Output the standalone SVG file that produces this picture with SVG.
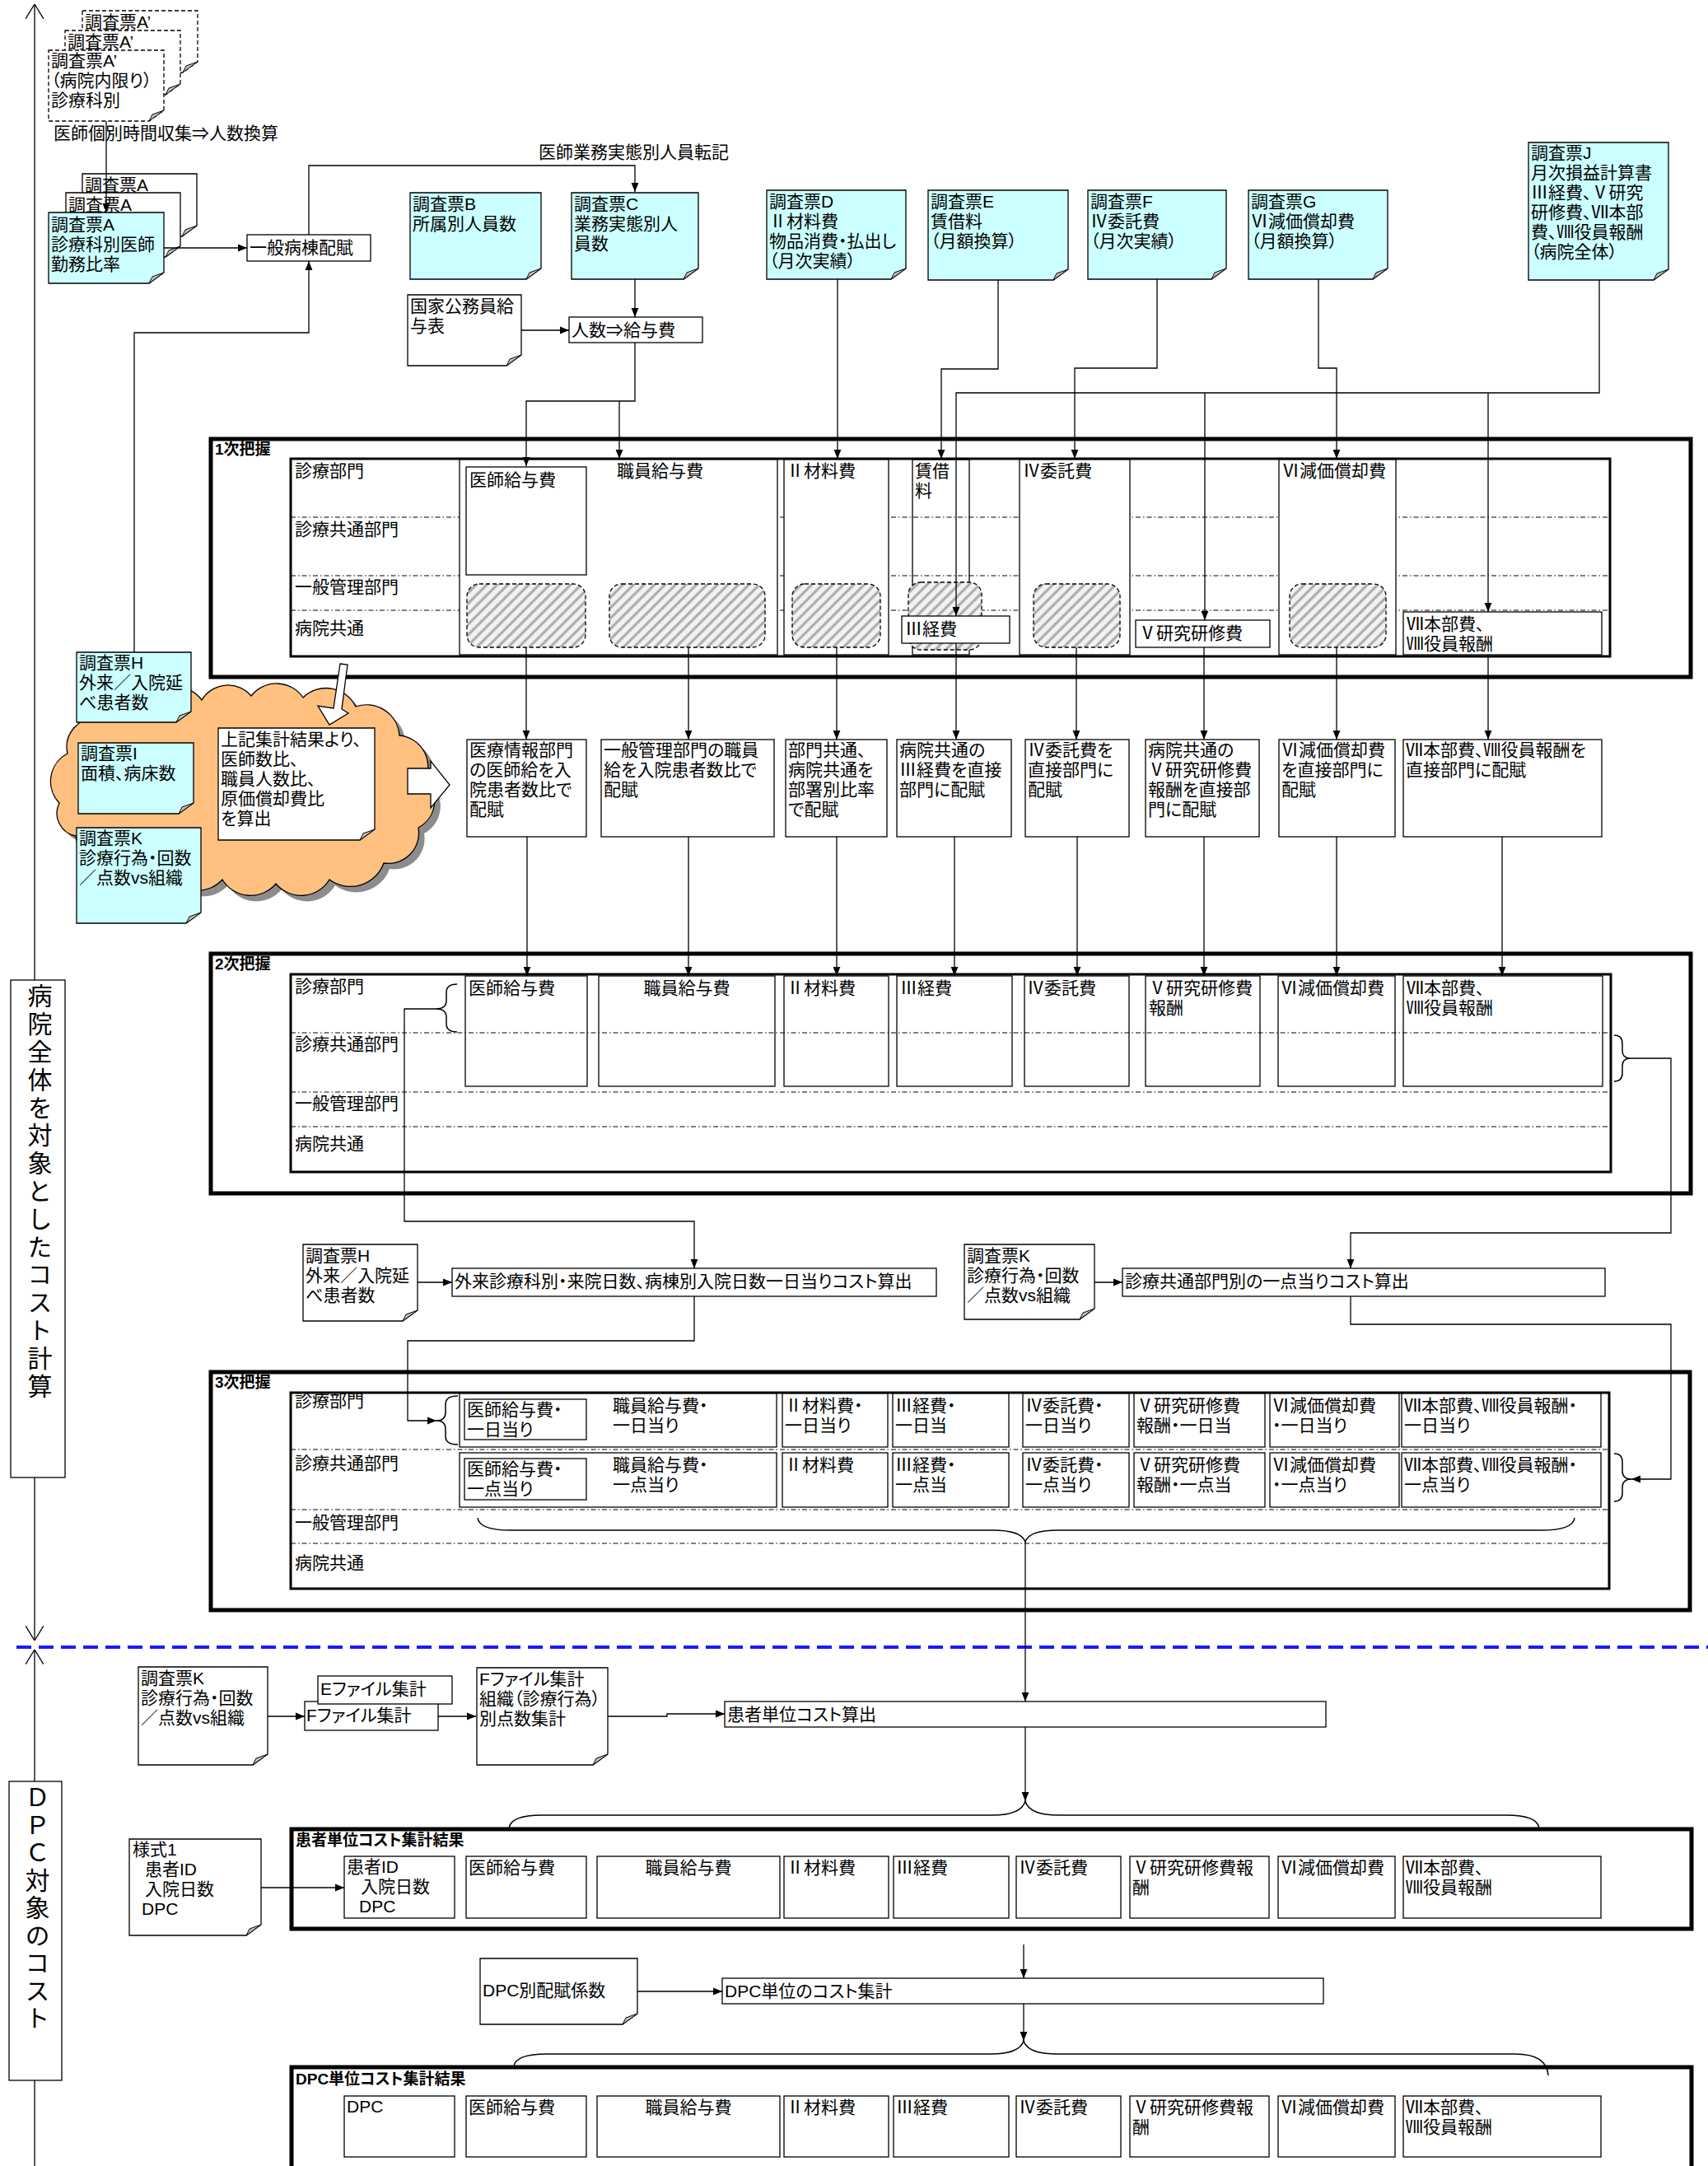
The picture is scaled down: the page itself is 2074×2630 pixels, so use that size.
<svg xmlns="http://www.w3.org/2000/svg" width="2074" height="2630" viewBox="0 0 2074 2630">
<style>
.t{font-family:"Liberation Sans","Noto Sans CJK JP","Noto Sans CJK SC",sans-serif;font-size:21px;fill:#000;font-feature-settings:"palt"}
.b{font-weight:bold;font-size:19px}
.vt{font-size:30px;writing-mode:vertical-rl;font-feature-settings:normal}
.c{text-anchor:middle}
.bx{fill:#fff;stroke:#000;stroke-width:1.3}
.nf{fill:none;stroke:#000;stroke-width:1.3}
.cy{fill:#ccffff;stroke:#000;stroke-width:1.3}
.dsh{fill:#fff;stroke:#000;stroke-width:1.3;stroke-dasharray:5 3}
.fold{fill:#c0c0c0;stroke:#000;stroke-width:1}
.fr{fill:none;stroke:#000;stroke-width:5}
.in{fill:none;stroke:#000;stroke-width:3}
.dd{fill:none;stroke:#000;stroke-width:1;stroke-dasharray:6 3 1.5 3}
.ln{fill:none;stroke:#000;stroke-width:1.3}
.ar{marker-end:url(#ah)}
.hat{fill:url(#hatch);stroke:#000;stroke-width:1.3;stroke-dasharray:5 3}
.br{fill:none;stroke:#000;stroke-width:1.5}
</style>
<defs>
<marker id="ah" viewBox="0 0 10 10" refX="10" refY="5" markerWidth="11" markerHeight="11" markerUnits="userSpaceOnUse" orient="auto"><path d="M0,1 L10,5 L0,9 z" fill="#000"/></marker>
<marker id="oa" viewBox="0 0 18 22" refX="18" refY="11" markerWidth="18" markerHeight="22" markerUnits="userSpaceOnUse" orient="auto-start-reverse"><path d="M0,0 L18,11 L0,22" fill="none" stroke="#000" stroke-width="1.3"/></marker>
<pattern id="hatch" width="9" height="9" patternUnits="userSpaceOnUse" patternTransform="rotate(45)"><rect width="9" height="9" fill="#f2f2f2"/><line x1="2" y1="0" x2="2" y2="9" stroke="#a8a8a8" stroke-width="3"/></pattern>
</defs>
<rect width="2074" height="2630" fill="#fff"/>

<g id="axis">
<path class="ln" d="M42 1992V5" marker-start="url(#oa)" marker-end="url(#oa)"/>
<path class="ln" d="M42 2630V2003" marker-end="url(#oa)"/>
<path d="M20 2000H2074" fill="none" stroke="#1a1aff" stroke-width="4" stroke-dasharray="18 9"/>
</g>

<g id="frame1">
<rect class="fr" x="256" y="533" width="1797" height="289"/>
<text class="t b" x="261" y="552">1次把握</text>
<line class="dd" x1="353" y1="628" x2="1955" y2="628"/>
<line class="dd" x1="353" y1="699" x2="1955" y2="699"/>
<line class="dd" x1="353" y1="741" x2="1955" y2="741"/>
<rect class="in" x="353" y="557" width="1602" height="240"/>
<text class="t" x="358" y="579">診療部門</text>
<text class="t" x="358" y="650">診療共通部門</text>
<text class="t" x="358" y="720">一般管理部門</text>
<text class="t" x="358" y="770">病院共通</text>
</g>
<g id="p1-salary">
<rect class="bx" x="558" y="558" width="386" height="237"/>
<rect class="bx" x="566" y="567" width="146" height="131"/>
<text class="t" x="570" y="590">医師給与費</text>
<text class="t" x="749" y="579">職員給与費</text>
<rect class="hat" x="567" y="709" width="144" height="77" rx="15"/>
<rect class="hat" x="740" y="709" width="189" height="77" rx="15"/>
</g>
<g id="p1-material">
<rect class="bx" x="952" y="558" width="127" height="237"/>
<text class="t" x="955" y="579">Ⅱ材料費</text>
<rect class="hat" x="962" y="709" width="107" height="77" rx="15"/>
</g>
<g id="p1-rent">
<rect class="nf" x="1108" y="558" width="69" height="237"/>
<text class="t" x="1111" y="579">賃借<tspan x="1111" dy="24">料</tspan></text>
<rect class="hat" x="1103" y="707" width="89" height="82" rx="15"/>
<rect class="bx" x="1095" y="748" width="131" height="33"/>
<text class="t" x="1099" y="771">Ⅲ経費</text>
</g>
<g id="p1-consign">
<rect class="bx" x="1238" y="558" width="134" height="237"/>
<text class="t" x="1242" y="579">Ⅳ委託費</text>
<rect class="hat" x="1255" y="709" width="105" height="77" rx="15"/>
</g>
<g id="p1-research">
<rect class="bx" x="1379" y="753" width="163" height="33"/>
<text class="t" x="1383" y="776">Ⅴ研究研修費</text>
</g>
<g id="p1-depr">
<rect class="bx" x="1553" y="558" width="142" height="237"/>
<text class="t" x="1557" y="579">Ⅵ減価償却費</text>
<rect class="hat" x="1566" y="709" width="117" height="77" rx="15"/>
</g>
<g id="p1-hq">
<rect class="bx" x="1704" y="743" width="241" height="52"/>
<text class="t" x="1708" y="765">Ⅶ本部費、<tspan x="1708" dy="24">Ⅷ役員報酬</tspan></text>
</g>

<g id="frame2">
<rect class="fr" x="256" y="1158" width="1797" height="291"/>
<text class="t b" x="261" y="1177">2次把握</text>
<rect class="in" x="353" y="1183" width="1603" height="240"/>
<text class="t" x="358" y="1205">診療部門</text>
<text class="t" x="358" y="1275">診療共通部門</text>
<text class="t" x="358" y="1347">一般管理部門</text>
<text class="t" x="358" y="1396">病院共通</text>
</g>
<g id="p2-cols">
<rect class="bx" x="565" y="1185" width="148" height="134"/>
<text class="t" x="569" y="1207">医師給与費</text>
<rect class="bx" x="727" y="1185" width="214" height="134"/>
<text class="t c" x="834" y="1207">職員給与費</text>
<rect class="bx" x="952" y="1185" width="127" height="134"/>
<text class="t" x="955" y="1207">Ⅱ材料費</text>
<rect class="bx" x="1089" y="1185" width="140" height="134"/>
<text class="t" x="1093" y="1207">Ⅲ経費</text>
<rect class="bx" x="1244" y="1185" width="127" height="134"/>
<text class="t" x="1247" y="1207">Ⅳ委託費</text>
<rect class="bx" x="1391" y="1185" width="139" height="134"/>
<text class="t" x="1395" y="1207">Ⅴ研究研修費<tspan x="1395" dy="24">報酬</tspan></text>
<rect class="bx" x="1552" y="1185" width="142" height="134"/>
<text class="t" x="1555" y="1207">Ⅵ減価償却費</text>
<rect class="bx" x="1704" y="1185" width="242" height="134"/>
<text class="t" x="1708" y="1207">Ⅶ本部費、<tspan x="1708" dy="24">Ⅷ役員報酬</tspan></text>
<line class="dd" x1="353" y1="1254" x2="1955" y2="1254"/>
<line class="dd" x1="353" y1="1326" x2="1955" y2="1326"/>
<line class="dd" x1="353" y1="1368" x2="1955" y2="1368"/>
</g>

<g id="frame3">
<rect class="fr" x="256" y="1666" width="1796" height="289"/>
<text class="t b" x="261" y="1685">3次把握</text>
<line class="dd" x1="353" y1="1760" x2="1954" y2="1760"/>
<line class="dd" x1="353" y1="1833" x2="1954" y2="1833"/>
<line class="dd" x1="353" y1="1874" x2="1954" y2="1874"/>
<rect class="in" x="353" y="1691" width="1601" height="238"/>
<text class="t" x="358" y="1708">診療部門</text>
<text class="t" x="358" y="1784">診療共通部門</text>
<text class="t" x="358" y="1856">一般管理部門</text>
<text class="t" x="358" y="1905">病院共通</text>
</g>
<g id="p3-row1">
<rect class="bx" x="558" y="1692" width="385" height="65"/>
<rect class="bx" x="564" y="1699" width="148" height="49"/>
<text class="t" x="567" y="1719">医師給与費・<tspan x="567" dy="24">一日当り</tspan></text>
<text class="t" x="744" y="1714">職員給与費・<tspan x="744" dy="24">一日当り</tspan></text>
<rect class="bx" x="950" y="1692" width="128" height="65"/>
<text class="t" x="953" y="1714">Ⅱ材料費・<tspan x="953" dy="24">一日当り</tspan></text>
<rect class="bx" x="1084" y="1692" width="141" height="65"/>
<text class="t" x="1087" y="1714">Ⅲ経費・<tspan x="1087" dy="24">一日当</tspan></text>
<rect class="bx" x="1242" y="1692" width="129" height="65"/>
<text class="t" x="1245" y="1714">Ⅳ委託費・<tspan x="1245" dy="24">一日当り</tspan></text>
<rect class="bx" x="1377" y="1692" width="159" height="65"/>
<text class="t" x="1380" y="1714">Ⅴ研究研修費<tspan x="1380" dy="24">報酬・一日当</tspan></text>
<rect class="bx" x="1542" y="1692" width="157" height="65"/>
<text class="t" x="1545" y="1714">Ⅵ減価償却費<tspan x="1545" dy="24">・一日当り</tspan></text>
<rect class="bx" x="1702" y="1692" width="242" height="65"/>
<text class="t" x="1705" y="1714">Ⅶ本部費、Ⅷ役員報酬・<tspan x="1705" dy="24">一日当り</tspan></text>
</g>
<g id="p3-row2">
<rect class="bx" x="558" y="1764" width="385" height="66"/>
<rect class="bx" x="564" y="1771" width="148" height="50"/>
<text class="t" x="567" y="1791">医師給与費・<tspan x="567" dy="24">一点当り</tspan></text>
<text class="t" x="744" y="1786">職員給与費・<tspan x="744" dy="24">一点当り</tspan></text>
<rect class="bx" x="950" y="1764" width="128" height="66"/>
<text class="t" x="953" y="1786">Ⅱ材料費</text>
<rect class="bx" x="1084" y="1764" width="141" height="66"/>
<text class="t" x="1087" y="1786">Ⅲ経費・<tspan x="1087" dy="24">一点当</tspan></text>
<rect class="bx" x="1242" y="1764" width="129" height="66"/>
<text class="t" x="1245" y="1786">Ⅳ委託費・<tspan x="1245" dy="24">一点当り</tspan></text>
<rect class="bx" x="1377" y="1764" width="159" height="66"/>
<text class="t" x="1380" y="1786">Ⅴ研究研修費<tspan x="1380" dy="24">報酬・一点当</tspan></text>
<rect class="bx" x="1542" y="1764" width="157" height="66"/>
<text class="t" x="1545" y="1786">Ⅵ減価償却費<tspan x="1545" dy="24">・一点当り</tspan></text>
<rect class="bx" x="1702" y="1764" width="242" height="66"/>
<text class="t" x="1705" y="1786">Ⅶ本部費、Ⅷ役員報酬・<tspan x="1705" dy="24">一点当り</tspan></text>
</g>

<g id="srcAprime">
<path class="dsh" d="M100 13H240V75L222 88H100Z"/><path class="fold" d="M222 88l4-8l14-5z"/>
<text class="t" x="103" y="34">調査票A’</text>
<path class="dsh" d="M79 37H219V102L201 115H79Z"/><path class="fold" d="M201 115l4-8l14-5z"/>
<text class="t" x="82" y="58">調査票A’</text>
<path class="dsh" d="M59 61H199V134L181 147H59Z"/><path class="fold" d="M181 147l4-8l14-5z"/>
<text class="t" x="62" y="81">調査票A’<tspan x="62" dy="24">（病院内限り）</tspan><tspan x="62" dy="24">診療科別</tspan></text>
</g>
<g id="lblA"><text class="t" x="65" y="169">医師個別時間収集⇒人数換算</text></g>
<g id="srcA">
<path class="bx" d="M100 211H239V274L221 287H100Z"/><path class="fold" d="M221 287l4-8l14-5z"/>
<text class="t" x="103" y="232">調査票A</text>
<path class="bx" d="M80 234H219V299L201 312H80Z"/><path class="fold" d="M201 312l4-8l14-5z"/>
<text class="t" x="83" y="256">調査票A</text>
<path class="cy" d="M59 258H199V331L181 344H59Z"/><path class="fold" d="M181 344l4-8l14-5z"/>
<text class="t" x="62" y="280">調査票A<tspan x="62" dy="24">診療科別医師</tspan><tspan x="62" dy="24">勤務比率</tspan></text>
</g>
<g id="ippanByoto">
<rect class="bx" x="300" y="285" width="150" height="32"/>
<text class="t" x="303" y="308">一般病棟配賦</text>
</g>
<g id="lblC"><text class="t" x="654" y="192">医師業務実態別人員転記</text></g>
<g id="srcB">
<path class="cy" d="M498 234H657V326L639 339H498Z"/><path class="fold" d="M639 339l4-8l14-5z"/>
<text class="t" x="501" y="255">調査票B<tspan x="501" dy="24">所属別人員数</tspan></text>
</g>
<g id="srcC">
<path class="cy" d="M694 234H848V326L830 339H694Z"/><path class="fold" d="M830 339l4-8l14-5z"/>
<text class="t" x="697" y="255">調査票C<tspan x="697" dy="24">業務実態別人</tspan><tspan x="697" dy="24">員数</tspan></text>
</g>
<g id="kokka">
<path class="bx" d="M495 358H633V431L615 444H495Z"/><path class="fold" d="M615 444l4-8l14-5z"/>
<text class="t" x="498" y="379">国家公務員給<tspan x="498" dy="24">与表</tspan></text>
</g>
<g id="ninzu">
<rect class="bx" x="691" y="385" width="162" height="31"/>
<text class="t" x="694" y="408">人数⇒給与費</text>
</g>
<g id="srcD">
<path class="cy" d="M931 231H1100V326L1082 339H931Z"/><path class="fold" d="M1082 339l4-8l14-5z"/>
<text class="t" x="934" y="252">調査票D<tspan x="934" dy="24">Ⅱ材料費</tspan><tspan x="934" dy="24">物品消費・払出し</tspan><tspan x="934" dy="24">（月次実績）</tspan></text>
</g>
<g id="srcE">
<path class="cy" d="M1127 231H1297V327L1279 340H1127Z"/><path class="fold" d="M1279 340l4-8l14-5z"/>
<text class="t" x="1130" y="252">調査票E<tspan x="1130" dy="24">賃借料</tspan><tspan x="1130" dy="24">（月額換算）</tspan></text>
</g>
<g id="srcF">
<path class="cy" d="M1321 231H1489V326L1471 339H1321Z"/><path class="fold" d="M1471 339l4-8l14-5z"/>
<text class="t" x="1324" y="252">調査票F<tspan x="1324" dy="24">Ⅳ委託費</tspan><tspan x="1324" dy="24">（月次実績）</tspan></text>
</g>
<g id="srcG">
<path class="cy" d="M1516 231H1685V326L1667 339H1516Z"/><path class="fold" d="M1667 339l4-8l14-5z"/>
<text class="t" x="1519" y="252">調査票G<tspan x="1519" dy="24">Ⅵ減価償却費</tspan><tspan x="1519" dy="24">（月額換算）</tspan></text>
</g>
<g id="srcJ">
<path class="cy" d="M1856 173H2026V327L2008 340H1856Z"/><path class="fold" d="M2008 340l4-8l14-5z"/>
<text class="t" x="1859" y="193">調査票J<tspan x="1859" dy="24">月次損益計算書</tspan><tspan x="1859" dy="24">Ⅲ経費、Ⅴ研究</tspan><tspan x="1859" dy="24">研修費、Ⅶ本部</tspan><tspan x="1859" dy="24">費、Ⅷ役員報酬</tspan><tspan x="1859" dy="24">（病院全体）</tspan></text>
</g>

<g id="cloud">
<path transform="translate(7,7)" fill="#8c8c8c" d="M72 975A38 38 0 0 1 82 915A35 35 0 0 1 118 872A39 39 0 0 1 178 852A41 41 0 0 1 245 850A37 37 0 0 1 305 845A39 39 0 0 1 368 847A40 40 0 0 1 432 858A40 40 0 0 1 485 893A38 38 0 0 1 517 945A38 38 0 0 1 508 1005A37 37 0 0 1 466 1048A43 43 0 0 1 400 1068A40 40 0 0 1 335 1073A40 40 0 0 1 270 1068A40 40 0 0 1 205 1060A42 42 0 0 1 140 1042A34 34 0 0 1 92 1015A28 28 0 0 1 72 975Z"/>
<path fill="#ffc080" stroke="#000" stroke-width="1.3" d="M72 975A38 38 0 0 1 82 915A35 35 0 0 1 118 872A39 39 0 0 1 178 852A41 41 0 0 1 245 850A37 37 0 0 1 305 845A39 39 0 0 1 368 847A40 40 0 0 1 432 858A40 40 0 0 1 485 893A38 38 0 0 1 517 945A38 38 0 0 1 508 1005A37 37 0 0 1 466 1048A43 43 0 0 1 400 1068A40 40 0 0 1 335 1073A40 40 0 0 1 270 1068A40 40 0 0 1 205 1060A42 42 0 0 1 140 1042A34 34 0 0 1 92 1015A28 28 0 0 1 72 975Z"/>
<polygon points="495,933 523,933 523,924 546,953 523,981 523,964 495,964" fill="#fff" stroke="#000" stroke-width="1.3"/>
</g>
<g id="srcH">
<path class="cy" d="M93 792H232V864L214 877H93Z"/><path class="fold" d="M214 877l4-8l14-5z"/>
<text class="t" x="96" y="812">調査票H<tspan x="96" dy="24">外来／入院延</tspan><tspan x="96" dy="24">べ患者数</tspan></text>
</g>
<g id="srcI">
<path class="cy" d="M95 902H235V975L217 988H95Z"/><path class="fold" d="M217 988l4-8l14-5z"/>
<text class="t" x="98" y="922">調査票I<tspan x="98" dy="24">面積、病床数</tspan></text>
</g>
<g id="srcK">
<path class="cy" d="M93 1005H244V1108L226 1121H93Z"/><path class="fold" d="M226 1121l4-8l14-5z"/>
<text class="t" x="96" y="1025">調査票K<tspan x="96" dy="24">診療行為・回数</tspan><tspan x="96" dy="24">／点数vs組織</tspan></text>
</g>
<g id="note">
<path class="bx" d="M265 884H455V1007L437 1020H265Z"/><path class="fold" d="M437 1020l4-8l14-5z"/>
<text class="t" x="268" y="905">上記集計結果より、<tspan x="268" dy="24">医師数比、</tspan><tspan x="268" dy="24">職員人数比、</tspan><tspan x="268" dy="24">原価償却費比</tspan><tspan x="268" dy="24">を算出</tspan></text>
</g>
<g id="callout">
<polygon points="413,806 422,807 415,861 423,866 400,880 386,857 405,860" fill="#fff" stroke="#000" stroke-width="1.3"/>
</g>

<g id="alloc1"><rect class="bx" x="567" y="898" width="145" height="118"/>
<text class="t" x="570" y="918">医療情報部門<tspan x="570" dy="24">の医師給を入</tspan><tspan x="570" dy="24">院患者数比で</tspan><tspan x="570" dy="24">配賦</tspan></text></g>
<g id="alloc2"><rect class="bx" x="730" y="898" width="210" height="118"/>
<text class="t" x="733" y="918">一般管理部門の職員<tspan x="733" dy="24">給を入院患者数比で</tspan><tspan x="733" dy="24">配賦</tspan></text></g>
<g id="alloc3"><rect class="bx" x="954" y="898" width="123" height="118"/>
<text class="t" x="957" y="918">部門共通、<tspan x="957" dy="24">病院共通を</tspan><tspan x="957" dy="24">部署別比率</tspan><tspan x="957" dy="24">で配賦</tspan></text></g>
<g id="alloc4"><rect class="bx" x="1089" y="898" width="139" height="118"/>
<text class="t" x="1092" y="918">病院共通の<tspan x="1092" dy="24">Ⅲ経費を直接</tspan><tspan x="1092" dy="24">部門に配賦</tspan></text></g>
<g id="alloc5"><rect class="bx" x="1245" y="898" width="126" height="118"/>
<text class="t" x="1248" y="918">Ⅳ委託費を<tspan x="1248" dy="24">直接部門に</tspan><tspan x="1248" dy="24">配賦</tspan></text></g>
<g id="alloc6"><rect class="bx" x="1391" y="898" width="138" height="118"/>
<text class="t" x="1394" y="918">病院共通の<tspan x="1394" dy="24">Ⅴ研究研修費</tspan><tspan x="1394" dy="24">報酬を直接部</tspan><tspan x="1394" dy="24">門に配賦</tspan></text></g>
<g id="alloc7"><rect class="bx" x="1553" y="898" width="141" height="118"/>
<text class="t" x="1556" y="918">Ⅵ減価償却費<tspan x="1556" dy="24">を直接部門に</tspan><tspan x="1556" dy="24">配賦</tspan></text></g>
<g id="alloc8"><rect class="bx" x="1704" y="898" width="241" height="118"/>
<text class="t" x="1707" y="918">Ⅶ本部費、Ⅷ役員報酬を<tspan x="1707" dy="24">直接部門に配賦</tspan></text></g>

<g id="srcH2">
<path class="bx" d="M368 1511H507V1591L489 1604H368Z"/><path class="fold" d="M489 1604l4-8l14-5z"/>
<text class="t" x="371" y="1532">調査票H<tspan x="371" dy="24">外来／入院延</tspan><tspan x="371" dy="24">べ患者数</tspan></text>
</g>
<g id="gairai">
<rect class="bx" x="549" y="1540" width="588" height="34"/>
<text class="t" x="552" y="1563">外来診療科別・来院日数、病棟別入院日数一日当りコスト算出</text>
</g>
<g id="srcK2">
<path class="bx" d="M1171 1511H1329V1589L1311 1602H1171Z"/><path class="fold" d="M1311 1602l4-8l14-5z"/>
<text class="t" x="1174" y="1532">調査票K<tspan x="1174" dy="24">診療行為・回数</tspan><tspan x="1174" dy="24">／点数vs組織</tspan></text>
</g>
<g id="shinryoKyotsu">
<rect class="bx" x="1363" y="1540" width="586" height="34"/>
<text class="t" x="1366" y="1563">診療共通部門別の一点当りコスト算出</text>
</g>

<g id="srcK3">
<path class="bx" d="M168 2024H325V2130L307 2143H168Z"/><path class="fold" d="M307 2143l4-8l14-5z"/>
<text class="t" x="171" y="2045">調査票K<tspan x="171" dy="24">診療行為・回数</tspan><tspan x="171" dy="24">／点数vs組織</tspan></text>
</g>
<g id="ffile">
<rect class="bx" x="370" y="2066" width="162" height="35"/>
<text class="t" x="372" y="2090">Fファイル集計</text>
</g>
<g id="efile">
<rect class="bx" x="386" y="2035" width="163" height="34"/>
<text class="t" x="389" y="2058">Eファイル集計</text>
</g>
<g id="fsum">
<path class="bx" d="M579 2025H738V2130L720 2143H579Z"/><path class="fold" d="M720 2143l4-8l14-5z"/>
<text class="t" x="582" y="2046">Fファイル集計<tspan x="582" dy="24">組織（診療行為）</tspan><tspan x="582" dy="24">別点数集計</tspan></text>
</g>
<g id="patientCost">
<rect class="bx" x="880" y="2066" width="730" height="31"/>
<text class="t" x="883" y="2089">患者単位コスト算出</text>
</g>
<g id="yoshiki1">
<path class="bx" d="M157 2233H317V2337L299 2350H157Z"/><path class="fold" d="M299 2350l4-8l14-5z"/>
<text class="t" x="161" y="2253">様式1<tspan x="176" dy="24">患者ID</tspan><tspan x="176" dy="24">入院日数</tspan><tspan x="172" dy="24">DPC</tspan></text>
</g>
<g id="resPatient">
<rect class="fr" x="354" y="2221" width="1700" height="121"/>
<text class="t b" x="359" y="2241">患者単位コスト集計結果</text>
<rect class="bx" x="418" y="2254" width="134" height="75"/>
<text class="t" x="421" y="2274">患者ID<tspan x="438" dy="24">入院日数</tspan><tspan x="436" dy="24">DPC</tspan></text>
<rect class="bx" x="566" y="2254" width="146" height="75"/><text class="t" x="569" y="2275">医師給与費</text>
<rect class="bx" x="725" y="2254" width="222" height="75"/><text class="t c" x="836" y="2275">職員給与費</text>
<rect class="bx" x="952" y="2254" width="127" height="75"/><text class="t" x="955" y="2275">Ⅱ材料費</text>
<rect class="bx" x="1085" y="2254" width="140" height="75"/><text class="t" x="1088" y="2275">Ⅲ経費</text>
<rect class="bx" x="1234" y="2254" width="127" height="75"/><text class="t" x="1237" y="2275">Ⅳ委託費</text>
<rect class="bx" x="1372" y="2254" width="169" height="75"/><text class="t" x="1375" y="2275">Ⅴ研究研修費報<tspan x="1375" dy="24">酬</tspan></text>
<rect class="bx" x="1552" y="2254" width="142" height="75"/><text class="t" x="1555" y="2275">Ⅵ減価償却費</text>
<rect class="bx" x="1704" y="2254" width="240" height="75"/><text class="t" x="1707" y="2275">Ⅶ本部費、<tspan x="1707" dy="24">Ⅷ役員報酬</tspan></text>
</g>
<g id="dpcCoef">
<path class="bx" d="M583 2378H774V2445L756 2458H583Z"/><path class="fold" d="M756 2458l4-8l14-5z"/>
<text class="t" x="586" y="2424">DPC別配賦係数</text>
</g>
<g id="dpcCost">
<rect class="bx" x="877" y="2402" width="730" height="31"/>
<text class="t" x="880" y="2425">DPC単位のコスト集計</text>
</g>
<g id="resDpc">
<rect class="fr" x="354" y="2510" width="1700" height="140"/>
<text class="t b" x="359" y="2531">DPC単位コスト集計結果</text>
<rect class="bx" x="418" y="2545" width="134" height="74"/><text class="t" x="421" y="2565">DPC</text>
<rect class="bx" x="566" y="2545" width="146" height="74"/><text class="t" x="569" y="2566">医師給与費</text>
<rect class="bx" x="725" y="2545" width="222" height="74"/><text class="t c" x="836" y="2566">職員給与費</text>
<rect class="bx" x="952" y="2545" width="127" height="74"/><text class="t" x="955" y="2566">Ⅱ材料費</text>
<rect class="bx" x="1085" y="2545" width="140" height="74"/><text class="t" x="1088" y="2566">Ⅲ経費</text>
<rect class="bx" x="1234" y="2545" width="127" height="74"/><text class="t" x="1237" y="2566">Ⅳ委託費</text>
<rect class="bx" x="1372" y="2545" width="169" height="74"/><text class="t" x="1375" y="2566">Ⅴ研究研修費報<tspan x="1375" dy="24">酬</tspan></text>
<rect class="bx" x="1552" y="2545" width="142" height="74"/><text class="t" x="1555" y="2566">Ⅵ減価償却費</text>
<rect class="bx" x="1704" y="2545" width="240" height="74"/><text class="t" x="1707" y="2566">Ⅶ本部費、<tspan x="1707" dy="24">Ⅷ役員報酬</tspan></text>
</g>

<g id="connectors">
<path class="ln ar" d="M129 147V258"/>
<path class="ln ar" d="M199 301H300"/>
<path class="ln ar" d="M375 285V201H771V233"/>
<path class="ln ar" d="M163 792V404H375V317"/>
<path class="ln ar" d="M771 339V385"/>
<path class="ln ar" d="M633 401H691"/>
<path class="ln ar" d="M771 416V487H639V566"/>
<path class="ln ar" d="M752 487V557"/>
<path class="ln ar" d="M1017 339V557"/>
<path class="ln ar" d="M1212 340V448H1143V557"/>
<path class="ln ar" d="M1405 339V447H1305V557"/>
<path class="ln ar" d="M1601 339V447H1623V557"/>
<path class="ln ar" d="M1942 340V477H1161V748"/>
<path class="ln ar" d="M1463 477V753"/>
<path class="ln ar" d="M1807 477V743"/>
<path class="ln ar" d="M639 786V898"/>
<path class="ln ar" d="M836 786V898"/>
<path class="ln ar" d="M1016 786V898"/>
<path class="ln ar" d="M1161 781V898"/>
<path class="ln ar" d="M1307 786V898"/>
<path class="ln ar" d="M1462 786V898"/>
<path class="ln ar" d="M1623 786V898"/>
<path class="ln ar" d="M1807 795V898"/>
<path class="ln ar" d="M640 1016V1185"/>
<path class="ln ar" d="M836 1016V1185"/>
<path class="ln ar" d="M1016 1016V1185"/>
<path class="ln ar" d="M1159 1016V1185"/>
<path class="ln ar" d="M1308 1016V1185"/>
<path class="ln ar" d="M1462 1016V1185"/>
<path class="ln ar" d="M1623 1016V1185"/>
<path class="ln ar" d="M1824 1016V1185"/>
<path class="br" d="M555 1195Q542 1195 542 1205V1215Q542 1225 529 1225Q542 1225 542 1235V1243Q542 1253 555 1253"/>
<path class="ln ar" d="M529 1225H491V1483H843V1540"/>
<path class="br" d="M1960 1257Q1970 1257 1970 1267V1276Q1970 1285 1980 1285Q1970 1285 1970 1294V1303Q1970 1313 1960 1313"/>
<path class="ln ar" d="M1980 1285H2029V1497H1640V1540"/>
<path class="ln ar" d="M507 1557H549"/>
<path class="ln ar" d="M1329 1557H1363"/>
<path class="ln ar" d="M843 1574V1628H495V1725H530"/>
<path class="ln ar" d="M1640 1574V1608H2029V1796H1981"/>
<path class="br" d="M556 1695Q541 1695 541 1705V1715Q541 1725 530 1725Q541 1725 541 1735V1744Q541 1754 556 1754"/>
<path class="br" d="M1960 1765Q1970 1765 1970 1775V1786Q1970 1796 1981 1796Q1970 1796 1970 1806V1813Q1970 1823 1960 1823"/>
<path class="br" d="M580 1843Q582 1858 620 1858H1205Q1240 1858 1245 1872Q1250 1858 1285 1858H1872Q1910 1858 1912 1843"/>
<path class="ln ar" d="M1245 1872V2066"/>
<path class="ln ar" d="M325 2084H370"/>
<path class="ln ar" d="M532 2084H578"/>
<path class="ln ar" d="M738 2084H810V2081H880"/>
<path class="ln ar" d="M1245 2097V2187"/>
<path class="br" d="M618 2220Q620 2204 658 2204H1205Q1240 2204 1245 2187Q1250 2204 1285 2204H1829Q1867 2204 1869 2220"/>
<path class="ln ar" d="M317 2292H418"/>
<path class="ln ar" d="M1243 2361V2402"/>
<path class="ln ar" d="M774 2418H877"/>
<path class="ln ar" d="M1243 2433V2478"/>
<path class="br" d="M624 2509Q626 2494 664 2494H1203Q1238 2494 1243 2478Q1248 2494 1283 2494H1840Q1878 2494 1880 2520"/>
</g>

<g id="labelHospital">
<rect class="bx" x="13" y="1190" width="66" height="604"/>
<text class="t vt" x="46" y="1194" letter-spacing="3.8">病院全体を対象としたコスト計算</text>
</g>
<g id="labelDpc">
<rect class="bx" x="11" y="2163" width="64" height="363"/>
<text class="t vt" x="43" y="2167" letter-spacing="3.5">ＤＰＣ対象のコスト</text>
</g>
</svg>
